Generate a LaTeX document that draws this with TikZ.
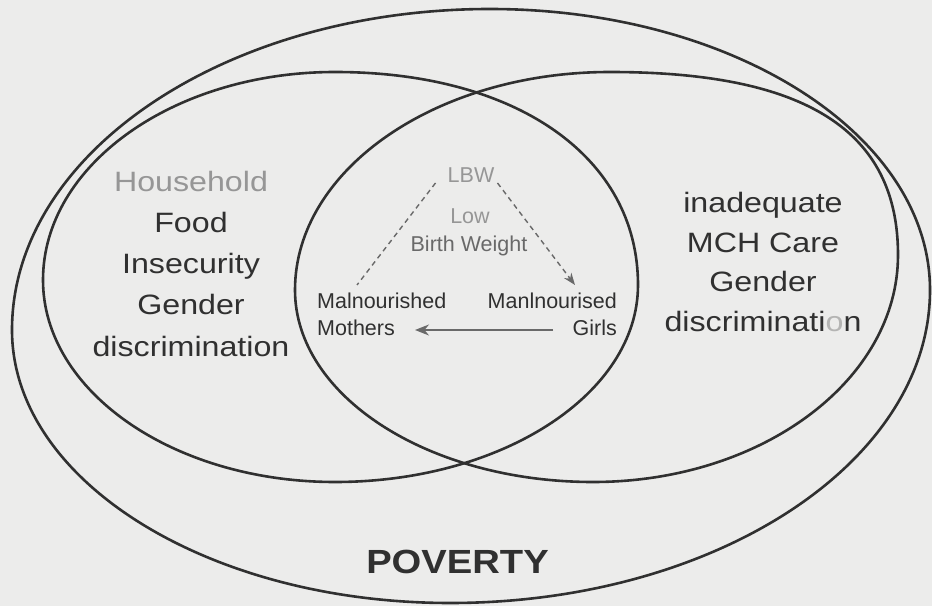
\documentclass[tikz,border=0pt]{standalone}
\usepackage{fontspec}
\setmainfont{Liberation Sans}
\usetikzlibrary{arrows.meta,calc}

\definecolor{paper}{RGB}{236,236,235}
\definecolor{ink}{RGB}{48,48,48}
\definecolor{faint}{RGB}{150,150,150}
\definecolor{mid}{RGB}{105,105,105}

\tikzset{
  ring/.style={draw=ink, line width=2.6pt},
  bigtext/.style={anchor=base, inner sep=0pt, text=ink, xscale=1.15,
                  font=\fontsize{28}{34}\selectfont},
  smalltext/.style={inner sep=0pt, text=ink, font=\fontsize{21.5}{26}\selectfont},
  titletext/.style={anchor=base, inner sep=0pt, text=ink, xscale=1.14,
                  font=\fontsize{33.5}{40}\selectfont\bfseries},
  linkline/.style={draw=mid, line width=1.4pt, dash pattern=on 5pt off 4pt},
  flowarrow/.style={draw=mid, line width=1.5pt,
                  -{Stealth[length=14pt,width=11pt]}},
}

\begin{document}
\begin{tikzpicture}[x=1pt,y=1pt]
  % paper and page size
  \fill[paper] (0,0) rectangle (932,606);
  \useasboundingbox (0,0) rectangle (932,606);

  % outer ring: poverty
  \draw[ring] (12,276)
     .. controls (12,453.2) and (226.1,597) .. (490,597)
     .. controls (732.9,597) and (930,471.1) .. (930,316)
     .. controls (930,143.2) and (715,3) .. (450,3)
     .. controls (208.2,3) and (12,125.3) .. cycle;

  % left ring: household food insecurity
  \draw[ring] (43,326)
     .. controls (43,440.8) and (173.8,534) .. (335,534)
     .. controls (516.8,534) and (638,448.8) .. (638,321)
     .. controls (638,212.3) and (502.3,124) .. (335,124)
     .. controls (173.8,124) and (43,214.5) .. cycle;

  % right ring: inadequate MCH care
  \draw[ring] (295,316)
     .. controls (295,436.3) and (436.1,534) .. (610,534)
     .. controls (805.8,534) and (898,475.4) .. (898,351)
     .. controls (898,225.7) and (761.4,124) .. (593,124)
     .. controls (428.5,124) and (295,210) .. cycle;

  % left ring labels
  \node[bigtext, text=faint] (hh)   at (191,414) {Household};
  \node[bigtext] (food)  at (191,373) {Food};
  \node[bigtext] (insec) at (191,332) {Insecurity};
  \node[bigtext] (gendl) at (191,291) {Gender};
  \node[bigtext] (discl) at (191,250) {discrimination};

  % right ring labels
  \node[bigtext] (inad)  at (763,393)   {inadequate};
  \node[bigtext] (mch)   at (763,353.5) {MCH Care};
  \node[bigtext] (gendr) at (763,314)   {Gender};
  \node[bigtext] (discr) at (763,274.5) {discriminati{\color{paper!70!ink}o}n};

  % cycle inside the overlap
  \node[smalltext, anchor=base, text=faint] (lbw) at (471,423) {LBW};
  \node[smalltext, anchor=base, text=faint] (low) at (470,382) {Low};
  \node[smalltext, anchor=base, text=mid]   (bw)  at (469,354) {Birth Weight};
  \node[smalltext, anchor=base west] (mal)     at (317,298) {Malnourished};
  \node[smalltext, anchor=base west] (mothers) at (317,270) {Mothers};
  \node[smalltext, anchor=base east] (manl)    at (617,298) {Manlnourised};
  \node[smalltext, anchor=base east] (girls)   at (617,270) {Girls};

  \draw[linkline] ([xshift=-12pt]lbw.base west) -- ([shift={(40pt,23pt)}]mal.base west);
  \draw[linkline, -{Stealth[length=12pt,width=9pt]}]
        ([xshift=3pt]lbw.base east) -- ([shift={(-42pt,23pt)}]manl.base east);
  \draw[flowarrow] ([shift={(-64pt,6pt)}]girls.base east) -- ([shift={(98pt,6pt)}]mothers.base west);

  % title of the outer ring
  \node[titletext] (pov) at (457.5,33) {POVERTY};
\end{tikzpicture}
\end{document}
